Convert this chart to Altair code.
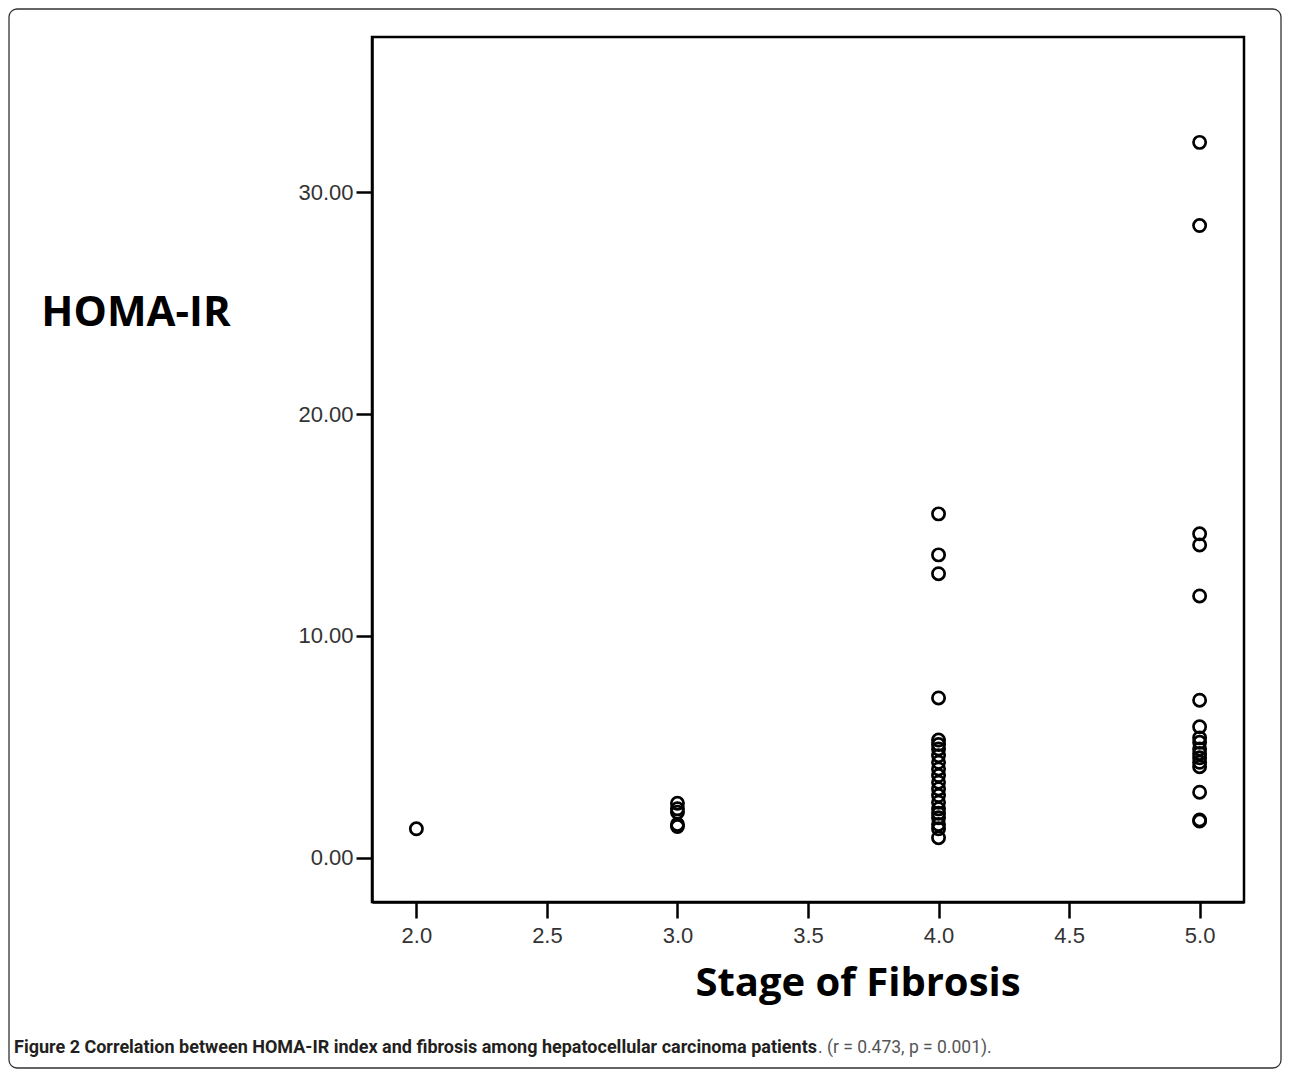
import altair as alt
import pandas as pd

# Data
stage2 = [1.3]
stage3 = [2.45, 2.2, 2.05, 1.5, 1.4]
stage4 = [15.5, 13.65, 12.8, 7.2, 5.3, 5.1, 4.9, 4.6, 4.3, 4.0, 3.7, 3.4,
          3.1, 2.8, 2.5, 2.2, 2.0, 1.8, 1.5, 1.3, 0.9]
stage5 = [32.25, 28.5, 14.6, 14.1, 11.8, 7.1, 5.9, 5.4, 5.2, 4.9, 4.7, 4.5,
          4.3, 4.1, 2.95, 1.7, 1.65]

x_ticks = [2.0, 2.5, 3.0, 3.5, 4.0, 4.5, 5.0]
y_ticks = [0, 10, 20, 30]

y_title = "HOMA-IR"
x_title = "Stage of Fibrosis"
caption_bold = "Figure 2 Correlation between HOMA-IR index and fibrosis among hepatocellular carcinoma patients"
caption_normal = ". (r = 0.473, p = 0.001)."

rows = []
for st, vals in [(2, stage2), (3, stage3), (4, stage4), (5, stage5)]:
    for v in vals:
        rows.append({"stage": st, "homa": v})
df = pd.DataFrame(rows)

W, H = 872, 865

points = alt.Chart(df).mark_point(
    shape="circle", filled=False, color="black", strokeWidth=2.7, size=150, opacity=1
).encode(
    x=alt.X("stage:Q",
            scale=alt.Scale(domain=[1.83, 5.17], nice=False, zero=False),
            axis=alt.Axis(values=x_ticks, format=".1f", title=None, grid=False,
                          domainColor="black", domainWidth=2.5, tickColor="black",
                          tickWidth=2.5, tickSize=16, labelPadding=7,
                          labelFont="Liberation Sans", labelFontSize=22,
                          labelColor="#333333")),
    y=alt.Y("homa:Q",
            scale=alt.Scale(domain=[-2, 37], nice=False, zero=False),
            axis=alt.Axis(values=y_ticks, format=".2f", title=None, grid=False,
                          domainColor="black", domainWidth=2.5, tickColor="black",
                          tickWidth=2.5, tickSize=16, labelPadding=3,
                          labelFont="Liberation Sans", labelFontSize=22,
                          labelColor="#333333")),
)

ytitle = alt.Chart(pd.DataFrame({"t": [y_title]})).mark_text(
    font="Open Sans", fontWeight="bold", fontSize=42, color="black",
    align="center", baseline="middle"
).encode(text="t:N", x=alt.value(-236), y=alt.value(276))

xtitle = alt.Chart(pd.DataFrame({"t": [x_title]})).mark_text(
    font="Open Sans", fontWeight="bold", fontSize=40, color="black",
    align="center", baseline="middle"
).encode(text="t:N", x=alt.value(486), y=alt.value(947))

cap1 = alt.Chart(pd.DataFrame({"t": [caption_bold]})).mark_text(
    font="Roboto", fontWeight="bold", fontSize=18, color="#231f20",
    align="left", baseline="middle"
).encode(text="t:N", x=alt.value(-358), y=alt.value(1011))

cap2 = alt.Chart(pd.DataFrame({"t": [caption_normal]})).mark_text(
    font="Roboto", fontSize=17.5, color="#555555",
    align="left", baseline="middle"
).encode(text="t:N", x=alt.value(446), y=alt.value(1011))

border = alt.Chart(pd.DataFrame({"a": [0]})).mark_rect(
    fill=None, filled=False, stroke="#333333", strokeWidth=1.3, cornerRadius=8
).encode(x=alt.value(-363), x2=alt.value(909), y=alt.value(-28), y2=alt.value(1031))

chart = alt.layer(border, points, ytitle, xtitle, cap1, cap2).properties(
    width=W, height=H,
    autosize=alt.AutoSizeParams(type="none"),
    padding={"left": 364, "top": 29, "right": 38, "bottom": 167},
    background="white",
).configure_view(stroke="black", strokeWidth=2.5)

chart.save("out.html", embed_options={"renderer": "svg", "actions": False})
